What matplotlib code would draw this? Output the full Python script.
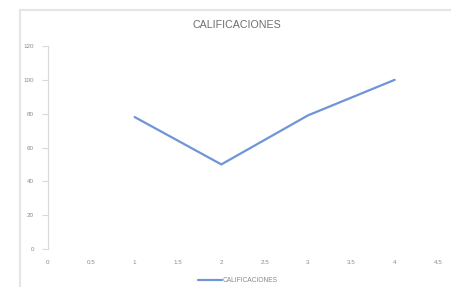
import matplotlib
matplotlib.use("Agg")
import matplotlib.pyplot as plt
from matplotlib.lines import Line2D

x_values = [1, 2, 3, 4]
calificaciones = [78, 50, 79, 100]
series_name = "CALIFICACIONES"
title = "CALIFICACIONES"
x_ticks = [0, 0.5, 1, 1.5, 2, 2.5, 3, 3.5, 4, 4.5]
x_tick_labels = ["0", "0.5", "1", "1.5", "2", "2.5", "3", "3.5", "4", "4.5"]
y_ticks = [0, 20, 40, 60, 80, 100, 120]

W, H = 452, 287
fig = plt.figure(figsize=(W / 100, H / 100), dpi=100)
fig.patch.set_facecolor("white")

# chart-area border (top and left only visible)
fig.add_artist(Line2D([20 / W, 20 / W, 1.0], [0.0, 1 - 9.5 / H, 1 - 9.5 / H],
                      transform=fig.transFigure, color="#e6e6e6", linewidth=1.6))

ax = fig.add_axes([48 / W, 1 - 249 / H, (438 - 48) / W, (249 - 46) / H])
ax.set_facecolor("none")
line_color = "#6f94d8"
ax.plot(x_values, calificaciones, color=line_color, linewidth=1.6, label=series_name,
        solid_capstyle="round")
ax.set_xlim(0, 4.5)
ax.set_ylim(0, 120)
ax.set_xticks(x_ticks)
ax.set_xticklabels(x_tick_labels)
ax.set_yticks(y_ticks)

for s in ["top", "right", "bottom"]:
    ax.spines[s].set_visible(False)
ax.spines["left"].set_color("#d9d9d9")
ax.spines["left"].set_linewidth(0.8)

font = "Liberation Sans"
ax.tick_params(axis="x", length=0, pad=8, labelsize=4.5, labelcolor="#8a8a8a")
ax.tick_params(axis="y", length=4, width=0.8, color="#d9d9d9", pad=6, labelsize=4.5,
               labelcolor="#8a8a8a")
for lab in ax.get_xticklabels() + ax.get_yticklabels():
    lab.set_fontfamily(font)

fig.text(237 / W, 1 - 25 / H, title, ha="center", va="center", fontsize=7.7,
         color="#6e6e6e", family=font)

leg = fig.legend(loc="center", bbox_to_anchor=(238 / W, 1 - 281 / H), frameon=False,
                 handlelength=3.5, handletextpad=0.2, borderaxespad=0,
                 prop={"family": font, "size": 4.8})
for t in leg.get_texts():
    t.set_color("#8a8a8a")

fig.savefig("out.png", dpi=100, facecolor="white")
